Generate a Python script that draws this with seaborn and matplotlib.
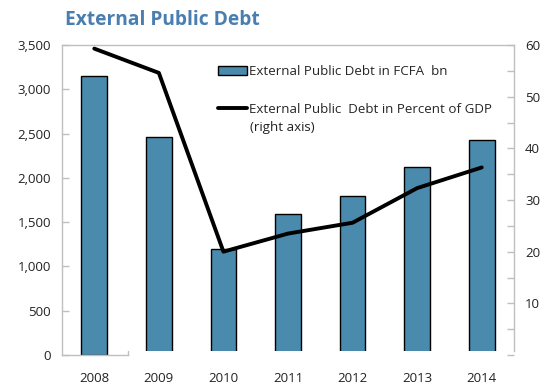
import matplotlib
matplotlib.use("Agg")
import matplotlib.pyplot as plt
import seaborn as sns
import pandas as pd
from matplotlib.patches import Patch, Rectangle
from matplotlib.lines import Line2D
from matplotlib.ticker import FuncFormatter, MultipleLocator

years = ["2008", "2009", "2010", "2011", "2012", "2013", "2014"]
debt_fcfa_bn = [3150, 2465, 1195, 1590, 1790, 2125, 2425]
debt_pct_gdp = [59.3, 54.6, 20.0, 23.5, 25.6, 32.3, 36.3]

bar_label = "External Public Debt in FCFA  bn"
line_label = "External Public  Debt in Percent of GDP"
title = "External Public Debt"

sns.set_theme(style="white")
plt.rcParams["font.family"] = ["Open Sans", "DejaVu Sans"]

df = pd.DataFrame({"year": years, "fcfa": debt_fcfa_bn, "pct": debt_pct_gdp})

fig = plt.figure(figsize=(5.52, 3.85), dpi=100)
ax = fig.add_axes([62 / 552, 30 / 385, 452 / 552, 310 / 385])

bar_color = "#4A8AAC"
grey = "#BFBFBF"

sns.barplot(data=df, x="year", y="fcfa", color=bar_color, width=0.4,
            edgecolor="black", linewidth=1.0, saturation=1, ax=ax)
ax.set_xlim(-0.5, len(years) - 0.5)
ax.set_ylim(0, 3500)
ax.set_xlabel("")
ax.set_ylabel("")

# bars after the first float slightly above the baseline
clip = Rectangle((0.5, 45), len(years), 4000, transform=ax.transData)
for p in ax.patches[1:]:
    p.set_clip_path(clip)

ax.yaxis.set_major_locator(MultipleLocator(500))
ax.yaxis.set_major_formatter(FuncFormatter(lambda v, _: f"{int(v):,}"))
ax.tick_params(axis="y", direction="in", length=5, color=grey, width=1,
               labelsize=9.5, labelcolor="#222222", pad=8)
ax.tick_params(axis="x", length=0, labelsize=9.5, labelcolor="#222222", pad=12)

for side in ["left", "top"]:
    ax.spines[side].set_color(grey)
    ax.spines[side].set_linewidth(1)
ax.spines["right"].set_visible(False)
ax.spines["bottom"].set_color(grey)
ax.spines["bottom"].set_linewidth(1)
ax.spines["bottom"].set_bounds(-0.5, 0.52)
ax.plot([0.52, 0.52], [0, 40], color=grey, lw=1, clip_on=False)

ax2 = ax.twinx()
sns.lineplot(data=df, x="year", y="pct", color="black", linewidth=2.8,
             ax=ax2, legend=False)
ax2.set_ylim(0, 60)
ax2.set_xlim(-0.5, len(years) - 0.5)
ax2.set_ylabel("")
ax2.yaxis.set_major_locator(MultipleLocator(10))
ax2.yaxis.set_minor_locator(MultipleLocator(5))
ax2.yaxis.set_major_formatter(FuncFormatter(lambda v, _: "" if v == 0 else f"{int(v)}"))
ax2.tick_params(axis="y", which="both", direction="in", color=grey, width=1,
                labelsize=9.5, labelcolor="#222222", pad=8)
ax2.tick_params(axis="y", which="major", length=5)
ax2.tick_params(axis="y", which="minor", length=5)
for side in ["left", "top", "bottom"]:
    ax2.spines[side].set_visible(False)
ax2.spines["right"].set_color(grey)
ax2.spines["right"].set_linewidth(1)
ax2.spines["right"].set_bounds(0.8, 60)

handles = [Patch(facecolor=bar_color, edgecolor="black", linewidth=1.0),
           Line2D([], [], color="black", linewidth=2.8)]
ax2.legend(handles, [bar_label, line_label], loc="upper left",
           bbox_to_anchor=(156 / 452, 1 - 20 / 310), frameon=False,
           fontsize=9.6, handlelength=2.2, handleheight=0.6, handletextpad=0.15,
           labelspacing=1.85, borderpad=0, borderaxespad=0)
fig.text(250 / 552, 1 - 128 / 385, "(right axis)", fontsize=9.6, va="center",
         color="#222222")

fig.text(65 / 552, 1 - 20 / 385, title, fontsize=13.8, fontweight="bold",
         color="#4A7EB0", va="center", ha="left")

fig.savefig("out.png", dpi=100)
